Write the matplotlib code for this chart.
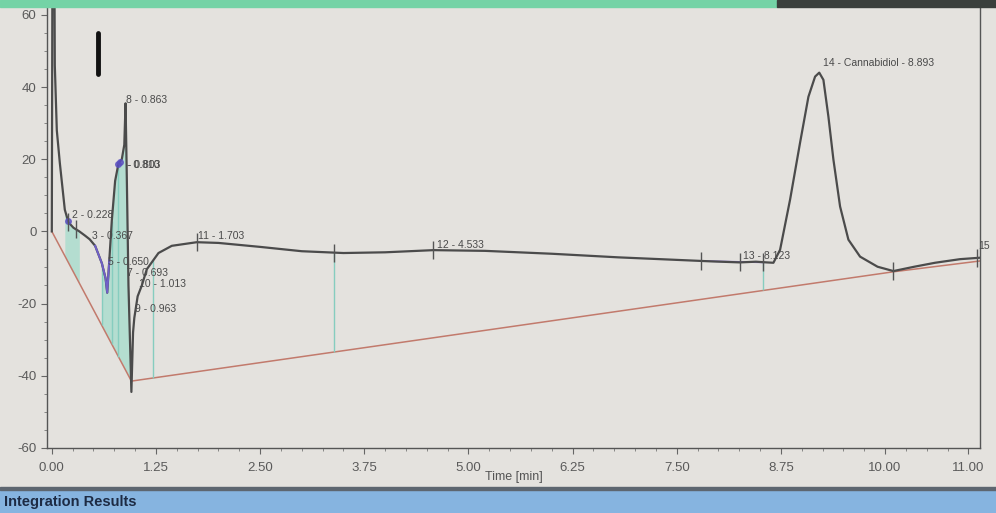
import matplotlib.pyplot as plt
from matplotlib.patches import Rectangle
from matplotlib.ticker import MultipleLocator, FixedLocator
import numpy as np

plt.rcParams['font.family'] = ['Liberation Sans', 'DejaVu Sans']
plt.rcParams['axes.unicode_minus'] = False

# chromatogram trace (time in min, signal)
time_min = [0.0, 0.008, 0.018, 0.028, 0.036, 0.06, 0.096, 0.156, 0.2, 0.26,
            0.33, 0.4, 0.455, 0.52, 0.6, 0.645, 0.665, 0.69, 0.72, 0.76,
            0.8, 0.84, 0.87, 0.885, 0.9, 0.92, 0.955, 0.975, 0.99, 1.03,
            1.08, 1.14, 1.28, 1.44, 1.68, 1.74, 2.0, 2.5, 3.0, 3.5,
            4.0, 4.58, 5.2, 6.0, 6.8, 7.5, 7.9, 8.26, 8.45, 8.58,
            8.66, 8.74, 8.86, 8.98, 9.08, 9.16, 9.21, 9.26, 9.32, 9.38,
            9.46, 9.56, 9.70, 9.91, 10.1, 10.35, 10.6, 10.9, 11.14]
signal = [0, 80, 160, 90, 46, 28, 19, 6, 2.5, 1,
          0, -1.2, -2.2, -4, -8.8, -13, -17, -8, 3, 14,
          18.8, 20, 24, 35.5, 15, -15, -44.5, -28, -24, -18,
          -15, -10.5, -6, -4, -3.2, -3, -3.2, -4.3, -5.5, -6,
          -5.8, -5.2, -5.4, -6.2, -7.2, -7.9, -8.3, -8.6, -8.4, -8.6,
          -8.7, -5.1, 8.8, 24.6, 37.3, 42.9, 44.0, 42.0, 31.8, 19.9,
          6.9, -2.3, -7.0, -9.8, -11.0, -9.8, -8.7, -7.7, -7.3]

# integration baseline (red) and drop lines (cyan)
base_t = [0.0, 0.955, 10.1, 11.14]
base_y = [0.0, -41.5, -11.2, -8.2]
drop_t = [0.6, 0.72, 0.8, 1.22, 3.39, 8.54]

# peak labels: text, time, value
peak_text = ["2 - 0.228", "3 - 0.367", "5 - 0.650", "7 - 0.693", "8 - 0.863",
             "- 0.810", "- 0.803", "9 - 0.963", "10 - 1.013", "11 - 1.703",
             "12 - 4.533", "13 - 8.123", "14 - Cannabidiol - 8.893", "15"]
peak_t = [0.24, 0.48, 0.68, 0.9, 0.89, 0.9, 0.91, 1.0, 1.05, 1.76,
          4.62, 8.3, 9.26, 11.12]
peak_y = [4.5, -1.4, -8.5, -11.5, 36.5, 18.5, 18.3, -21.5, -14.5, -1.4,
          -3.9, -6.9, 46.8, -4.0]
mark_t = [0.2, 0.29, 1.74, 3.39, 4.58, 7.79, 8.26, 8.54, 10.1, 11.1]

x_ticks = [0.0, 1.25, 2.5, 3.75, 5.0, 6.25, 7.5, 8.75, 10.0, 11.0]
x_labels = ["0.00", "1.25", "2.50", "3.75", "5.00", "6.25", "7.50", "8.75",
            "10.00", "11.00"]
y_ticks = [-60, -40, -20, 0, 20, 40, 60]

bg = '#e4e2de'
fig = plt.figure(figsize=(9.96, 5.13), dpi=100, facecolor=bg)
ax = fig.add_axes([0.047, 0.127, 0.937, 0.858], facecolor=bg)

t = np.array(time_min)
s = np.array(signal)

# shaded peak areas
for lo, hi in [(0.12, 0.33), (0.6, 0.955)]:
    m = (t >= lo) & (t <= hi)
    ax.fill_between(t[m], s[m], np.interp(t[m], base_t, base_y),
                    color='#a9dccd', alpha=0.8, lw=0)

ax.plot(base_t, base_y, color='#c27a6c', lw=1.1)
for d in drop_t:
    ax.vlines(d, np.interp(d, base_t, base_y), np.interp(d, t, s),
              color='#86cdbf', lw=1.0)
ax.plot([7.79, 8.54], [-8.2, -8.6], color='#8a6fd0', lw=1.2)

ax.plot(t, s, color='#4b4b4b', lw=1.6)
m = (t >= 0.52) & (t <= 0.69)
ax.plot(t[m], s[m], color='#7060c8', lw=1.4)
ax.plot([0.2, 0.8, 0.82], [2.8, 18.8, 19.2], 'o', color='#5a4fc0', ms=4, alpha=0.8)

for mt in mark_t:
    yv = np.interp(mt, t, s)
    ax.vlines(mt, yv - 2.5, yv + 2.5, color='#555555', lw=1.0)

for txt, px, py in zip(peak_text, peak_t, peak_y):
    ax.text(px, py, txt, fontsize=7.5, color='#4a4a4a', va='center',
            clip_on=False)

# cursor bar
ax.plot([0.56, 0.56], [43.5, 55], color='#111111', lw=3.5,
        solid_capstyle='round')

ax.set_xlim(-0.06, 11.14)
ax.set_ylim(-60, 62)
ax.xaxis.set_major_locator(FixedLocator(x_ticks))
ax.set_xticklabels(x_labels)
ax.xaxis.set_minor_locator(MultipleLocator(0.25))
ax.yaxis.set_major_locator(FixedLocator(y_ticks))
ax.yaxis.set_minor_locator(MultipleLocator(5))
ax.tick_params(which='major', length=4, color='#666666', labelcolor='#5a5a5a',
               labelsize=9.5)
ax.tick_params(axis='x', which='major', pad=6)
ax.tick_params(which='minor', length=2, color='#777777')
ax.set_xlabel("Time [min]", fontsize=9, color='#555555', labelpad=-2)
ax.spines['top'].set_visible(False)
for side in ['left', 'bottom', 'right']:
    ax.spines[side].set_color('#555555')
    ax.spines[side].set_linewidth(1.0)

# screen frame bits around the plot
fig.patches.append(Rectangle((0, 0.986), 0.78, 0.014, transform=fig.transFigure,
                             color='#74d3a6', zorder=0))
fig.patches.append(Rectangle((0.78, 0.986), 0.22, 0.014, transform=fig.transFigure,
                             color='#3a3f3c', zorder=0))
fig.patches.append(Rectangle((0, 0.0), 1, 0.045, transform=fig.transFigure,
                             color='#86b4e0', zorder=0))
fig.patches.append(Rectangle((0, 0.045), 1, 0.006, transform=fig.transFigure,
                             color='#5d6670', zorder=0))
fig.text(0.004, 0.022, "Integration Results", fontsize=10.5, fontweight='bold',
         color='#1d2b44', va='center', ha='left')

plt.savefig("out.png", dpi=100, facecolor=bg)
